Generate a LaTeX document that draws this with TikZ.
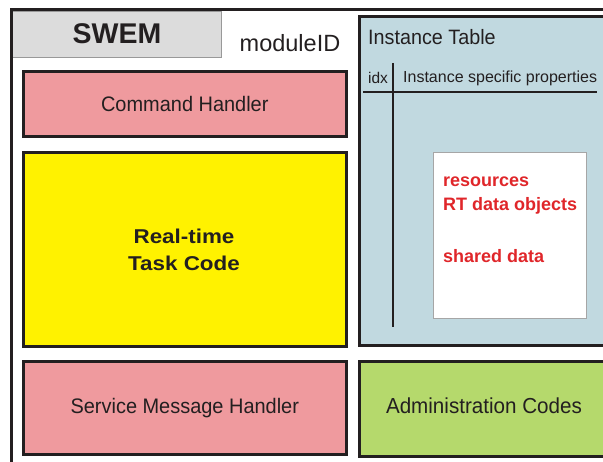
\documentclass[tikz,border=0pt]{standalone}
\usepackage{fontspec}
\setmainfont{Liberation Sans}
\newfontfamily\narrowsans[FakeStretch=0.95]{Liberation Sans}
\newfontfamily\widesans[FakeStretch=1.12]{Liberation Sans}
\definecolor{edge}{HTML}{231F20}
\definecolor{swemgray}{HTML}{DCDCDC}
\definecolor{pinkbox}{HTML}{EF9A9E}
\definecolor{yellowbox}{HTML}{FFF200}
\definecolor{bluebox}{HTML}{C1D9E0}
\definecolor{greenbox}{HTML}{B5D96C}
\definecolor{redtext}{HTML}{E0262A}
\tikzset{
  blockbox/.style={draw=edge, line width=2.6pt, rectangle, anchor=north west, inner sep=0pt},
  lbl/.style={font=\narrowsans\fontsize{21}{24}\selectfont, text=edge, inner sep=0pt},
  redlbl/.style={font=\bfseries\fontsize{18}{20}\selectfont, text=redtext, anchor=west, inner sep=0pt},
}
\begin{document}
\begin{tikzpicture}[x=1pt,y=-1pt]
\useasboundingbox (0,0) rectangle (603,462);
\clip (0,0) rectangle (603,462);
\fill[white] (0,0) rectangle (603,462);
% SWEM header
\node[draw=gray!80, line width=0.8pt, fill=swemgray, anchor=north west, minimum width=209pt, minimum height=46pt, inner sep=0pt] (swem) at (12,11) {};
\node[font=\bfseries\fontsize{28.5}{30}\selectfont, text=edge, inner sep=0pt] (swemt) at (117,34) {SWEM};
\node[font=\fontsize{23.5}{26}\selectfont, text=edge, inner sep=0pt] (modid) at (290,43) {moduleID};
% outer frame
\coordinate (ftr) at (610,9.5);
\coordinate (ftl) at (11.5,9.5);
\coordinate (fbl) at (11.5,470);
\draw[edge, line width=3pt] (ftr) -- (ftl) -- (fbl);
% left column
\node[blockbox, fill=pinkbox, minimum width=323pt, minimum height=65pt] (cmd) at (22,70) {};
\node[lbl] (cmdt) at (cmd.center) {Command Handler};
\node[blockbox, fill=yellowbox, minimum width=323pt, minimum height=194pt] (rt) at (22,151) {};
\node[lbl, font=\widesans\bfseries\fontsize{20}{27}\selectfont, align=center] (rtt) at (184,249.5) {Real-time\\Task Code};
\node[blockbox, fill=pinkbox, minimum width=323pt, minimum height=93pt] (smh) at (22,360) {};
\node[lbl] (smht) at (smh.center) {Service Message Handler};
% right column
\node[blockbox, fill=bluebox, minimum width=260pt, minimum height=329pt] (inst) at (358,15) {};
\node[lbl, anchor=west, font=\narrowsans\fontsize{20.8}{24}\selectfont] (instt) at (368,37) {Instance Table};
\node[lbl, font=\fontsize{15.5}{18}\selectfont] (idx) at (378,78) {idx};
\node[lbl, font=\fontsize{16}{18}\selectfont, anchor=west] (isp) at (403,78) {Instance specific properties};
\coordinate (hl) at (363,92);
\coordinate (hr) at (597,92);
\coordinate (vt) at (393,63);
\coordinate (vb) at (393,327);
\draw[edge, line width=2.2pt] (hl) -- (hr);
\draw[edge, line width=2.6pt] (vt) -- (vb);
\node[draw=gray!70, line width=0.8pt, fill=white, anchor=north west, minimum width=153pt, minimum height=166pt, inner sep=0pt] (props) at (433,152) {};
\node[redlbl] (res) at (443,182) {resources};
\node[redlbl] (rtd) at (443,206) {RT data objects};
\node[redlbl] (shd) at (443,256) {shared data};
\node[blockbox, fill=greenbox, minimum width=260pt, minimum height=95pt] (adm) at (358,360) {};
\node[lbl, font=\narrowsans\fontsize{21.7}{24}\selectfont] (admt) at (484,406) {Administration Codes};
\end{tikzpicture}
\end{document}
